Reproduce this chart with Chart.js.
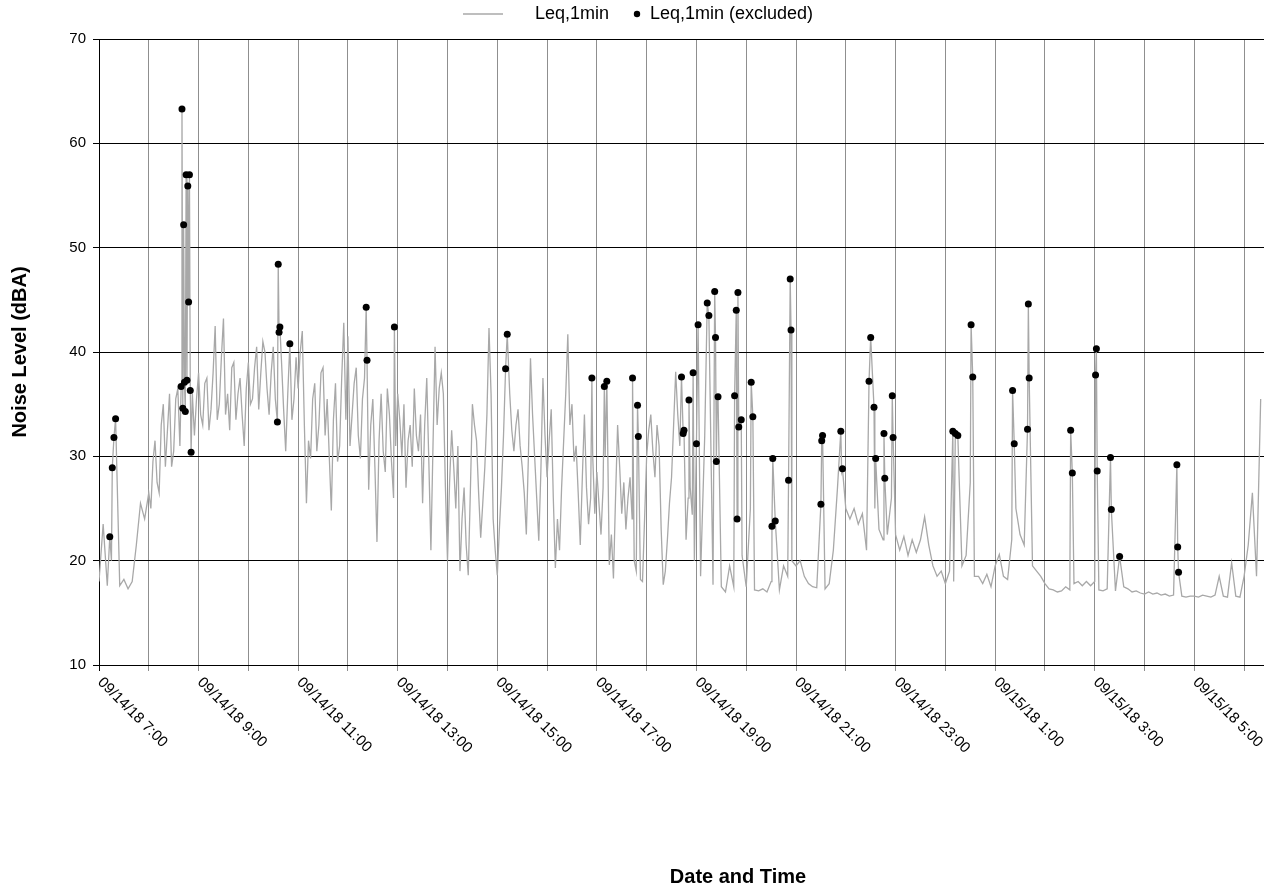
<!DOCTYPE html>
<html>
<head>
<meta charset="utf-8">
<script src="https://cdn.jsdelivr.net/npm/chart.js@4.4.1/dist/chart.umd.min.js"></script>
<style>
  html, body { margin: 0; padding: 0; background: #fff; }
  #wrap { width: 1264px; height: 888px; }
</style>
</head>
<body>
<div id="wrap"><canvas id="noiseChart" width="1264" height="888"></canvas></div>
<script>
// Leq,1min, one value every 5 minutes from 09/14/18 7:00
const stepMin = 5;
const leqBase = [
  18.0, 23.5, 17.6, 20.0, 22.0, 17.6, 18.2, 17.3, 18.0, 21.5, 25.5, 24.0,
  26.5, 29.5, 27.5, 33.0, 29.0, 36.0, 30.5, 36.5, 35.0, 33.5, 35.0, 32.0,
  38.0, 33.0, 37.5, 34.5, 42.5, 35.0, 43.2, 36.0, 38.5, 33.5, 37.5, 31.0,
  39.0, 35.5, 40.5, 38.0, 40.0, 34.0, 40.5, 33.5, 39.0, 30.5, 38.0, 35.5,
  36.5, 42.0, 25.5, 29.8, 37.0, 33.0, 38.5, 35.5, 24.8, 37.0, 31.0, 42.8,
  41.5, 34.0, 38.5, 29.8, 37.5, 26.8, 35.5, 21.8, 36.0, 28.5, 34.0, 26.0,
  36.0, 30.0, 27.0, 33.0, 36.5, 30.5, 25.5, 37.5, 21.0, 40.5, 36.5, 36.0,
  20.0, 32.5, 25.0, 19.0, 27.0, 18.6, 35.0, 31.5, 22.2, 29.0, 42.3, 24.0,
  18.6, 27.0, 40.0, 36.0, 30.5, 34.5, 29.0, 22.5, 39.4, 30.0, 21.9, 37.5,
  28.0, 34.5, 19.3, 21.0, 31.5, 41.7, 35.0, 31.0, 21.5, 34.0, 23.5, 30.0,
  28.5, 22.5, 30.0, 19.6, 18.3, 33.0, 24.5, 23.0, 28.0, 20.0, 18.5, 18.0,
  30.0, 34.0, 28.0, 31.0, 17.7, 22.0, 28.0, 38.1, 31.0, 30.5, 26.0, 24.4,
  28.0, 18.5, 32.0, 30.5, 17.7, 35.7, 17.5, 17.0, 19.5, 17.5, 32.8, 20.5,
  17.5, 25.0, 17.2, 17.1, 17.3, 17.0, 18.0, 20.0, 17.2, 19.5, 18.5, 20.0,
  19.5, 20.0, 18.5, 17.8, 17.5, 17.4, 19.0, 17.3, 17.8, 21.0, 27.0, 28.5,
  25.0, 24.0, 25.0, 23.5, 24.5, 21.0, 24.0, 25.0, 23.0, 22.0, 22.5, 26.0,
  22.5, 21.0, 22.3, 20.5, 22.0, 20.8, 22.0, 24.2, 21.5, 19.5, 18.5, 19.0,
  17.8, 19.0, 18.0, 18.5, 19.5, 20.5, 27.5, 18.5, 18.5, 17.8, 18.7, 17.5,
  19.5, 20.6, 18.5, 18.2, 22.0, 25.0, 22.5, 21.5, 21.0, 19.5, 19.0, 18.5,
  17.8, 17.3, 17.2, 17.0, 17.1, 17.5, 17.2, 17.8, 18.0, 17.6, 18.0, 17.6,
  18.0, 17.2, 17.1, 17.3, 17.5, 17.1, 18.0, 17.5, 17.3, 17.0, 17.1, 16.9,
  16.8, 17.0, 16.8, 16.9, 16.7, 16.8, 16.6, 16.7, 16.7, 16.6, 16.5, 16.6,
  16.6, 16.5, 16.7, 16.6, 16.5, 16.7, 18.5, 16.6, 16.5, 19.8, 16.6, 16.5,
  18.5, 21.5, 26.5, 18.5, 35.5
];

// extra readings in the busy daytime stretch, at 8:02:30, 8:07:30 ... 18:57:30
const midStart = 62.5;
const leqMid = [
  25.0, 31.5, 26.5, 35.0, 32.5, 29.0, 35.5, 31.0, null, null, 36.0, 35.5,
  34.0, 37.0, 32.5, 38.0, 33.5, 39.5, 34.0, 32.5, 39.0, 36.0, 34.0, 36.5,
  35.0, 38.5, 34.5, 41.0, 36.5, 38.0, 35.5, null, 34.5, 36.0, 33.5, 39.5,
  40.0, 33.0, 31.5, 35.5, 30.5, 38.0, 32.0, 30.0, 33.5, 29.5, 37.5, 33.5,
  31.0, 37.0, 32.0, 35.5, null, 33.0, 29.0, 31.5, 30.5, 36.5, 29.5, 31.0,
  33.5, 35.0, 31.5, 29.0, 32.0, 34.0, 33.0, 29.5, 31.0, 33.0, 38.0, 27.0,
  27.5, 29.0, 31.0, 24.0, 21.5, 26.5, 33.0, 26.5, 25.5, 34.0, 36.0, 21.0,
  23.0, 32.0, null, 32.5, 33.0, 31.0, 26.5, 30.0, 34.0, 26.0, 28.5, 32.0,
  31.5, 26.0, 24.0, 27.0, 36.0, 33.0, 29.5, 26.5, 28.0, 27.0, 26.0, 24.5,
  25.5, 27.0, null, 22.5, 26.0, 29.0, 27.5, 26.0, 24.0, 19.0, 18.2, 24.0,
  32.5, 30.5, 33.0, 23.0, 19.0, 25.5, 33.0, 34.0, null, 22.0, 27.0, 20.0
];

// excluded minutes (minutes after 7:00) and their levels
const excMinutes = [
  13, 16, 18, 20,
  99, 100, 101, 102, 103, 104, 105, 106, 107, 108, 109, 110, 111,
  215, 216, 217, 218, 230,
  322, 323, 356,
  490, 492,
  594, 609, 612, 643, 649, 650,
  702, 704, 705, 711, 716, 720, 722, 733, 735, 742, 743, 744, 746,
  766, 768, 769, 770, 771, 774, 786, 788, 811, 812, 815,
  831, 833, 834, 870, 871, 872, 894, 896,
  928, 930, 934, 936, 946, 947, 956, 957,
  1029, 1032, 1035, 1051, 1053,
  1101, 1103, 1119, 1120, 1121, 1171, 1173,
  1201, 1202, 1203, 1219, 1220, 1230,
  1299, 1300, 1301
];
const excLevels = [
  22.3, 28.9, 31.8, 33.6,
  36.7, 63.3, 34.6, 52.2, 37.1, 34.3, 57.0, 37.3, 55.9, 44.8, 57.0, 36.3, 30.4,
  33.3, 48.4, 41.9, 42.4, 40.8,
  44.3, 39.2, 42.4,
  38.4, 41.7,
  37.5, 36.7, 37.2, 37.5, 34.9, 31.9,
  37.6, 32.2, 32.5, 35.4, 38.0, 31.2, 42.6, 44.7, 43.5, 45.8, 41.4, 29.5, 35.7,
  35.8, 44.0, 24.0, 45.7, 32.8, 33.5, 37.1, 33.8, 23.3, 29.8, 23.8,
  27.7, 47.0, 42.1, 25.4, 31.5, 32.0, 32.4, 28.8,
  37.2, 41.4, 34.7, 29.8, 32.2, 27.9, 35.8, 31.8,
  32.4, 32.2, 32.0, 42.6, 37.6,
  36.3, 31.2, 32.6, 44.6, 37.5, 32.5, 28.4,
  37.8, 40.3, 28.6, 29.9, 24.9, 20.4,
  29.2, 21.3, 18.9
];

const tickMinutes = [0, 120, 240, 360, 480, 600, 720, 840, 960, 1080, 1200, 1320];
const tickLabels = [
  "09/14/18 7:00", "09/14/18 9:00", "09/14/18 11:00", "09/14/18 13:00",
  "09/14/18 15:00", "09/14/18 17:00", "09/14/18 19:00", "09/14/18 21:00",
  "09/14/18 23:00", "09/15/18 1:00", "09/15/18 3:00", "09/15/18 5:00"
];

const lineLabel = "Leq,1min";
const excLabel = "Leq,1min (excluded)";

// the full 1-min line also passes through the excluded minutes
let lineMap = new Map();
leqBase.forEach((v, i) => lineMap.set(i * stepMin, v));
leqMid.forEach((v, i) => { if (v !== null) lineMap.set(midStart + i * stepMin, v); });
excMinutes.forEach((m, i) => lineMap.set(m, excLevels[i]));
let lineData = [...lineMap.entries()].sort((a, b) => a[0] - b[0]).map(e => ({x: e[0], y: e[1]}));
let excData = excMinutes.map((m, i) => ({x: m, y: excLevels[i]}));

const FONT = '"Liberation Sans", Arial, sans-serif';

// x labels go down to the right, plus the x title and the legend
const extraText = {
  id: 'extraText',
  afterDraw(chart) {
    const ctx = chart.ctx;
    const xs = chart.scales.x;
    const area = chart.chartArea;
    ctx.save();
    ctx.fillStyle = '#000';
    ctx.font = '15px ' + FONT;
    ctx.textAlign = 'left';
    ctx.textBaseline = 'middle';
    tickMinutes.forEach((m, i) => {
      const px = xs.getPixelForValue(m);
      ctx.save();
      ctx.translate(px + 1, area.bottom + 15);
      ctx.rotate(Math.PI / 4);
      ctx.fillText(tickLabels[i], 0, 0);
      ctx.restore();
    });

    ctx.font = 'bold 20px ' + FONT;
    ctx.textAlign = 'center';
    ctx.fillText('Date and Time', 738, 877);

    // legend
    ctx.font = '18px ' + FONT;
    ctx.textAlign = 'left';
    ctx.strokeStyle = '#a8a8a8';
    ctx.lineWidth = 1.3;
    ctx.beginPath();
    ctx.moveTo(463, 14);
    ctx.lineTo(503, 14);
    ctx.stroke();
    ctx.fillText(lineLabel, 535, 14);
    ctx.beginPath();
    ctx.arc(637, 14, 3.2, 0, Math.PI * 2);
    ctx.fill();
    ctx.fillText(excLabel, 650, 14);
    ctx.restore();
  }
};

new Chart(document.getElementById('noiseChart'), {
  data: {
    datasets: [{
      type: 'scatter',
      label: excLabel,
      data: excData,
      backgroundColor: '#000',
      borderWidth: 0,
      pointRadius: 3.5,
      order: 1
    }, {
      type: 'line',
      label: lineLabel,
      data: lineData,
      borderColor: '#a8a8a8',
      borderWidth: 1.3,
      pointRadius: 0,
      tension: 0,
      order: 2
    }]
  },
  options: {
    responsive: false,
    animation: false,
    layout: { autoPadding: false, padding: { left: 4, top: 39, right: 0, bottom: 0 } },
    plugins: {
      legend: { display: false },
      tooltip: { enabled: false }
    },
    scales: {
      x: {
        type: 'linear',
        min: 0,
        max: 1404,
        ticks: { display: false, stepSize: 60, includeBounds: false },
        grid: {
          color: ctx => ctx.tick && ctx.tick.value === 0 ? '#000' : '#8f8f8f',
          lineWidth: 1,
          tickLength: 6
        },
        border: { color: '#000' },
        afterFit: s => { s.height = 223; }
      },
      y: {
        min: 10,
        max: 70,
        ticks: { stepSize: 10, color: '#000', padding: 7, font: { size: 15, family: FONT } },
        grid: { color: '#000', lineWidth: 1, tickLength: 6 },
        border: { color: '#000' },
        title: {
          display: true,
          text: 'Noise Level (dBA)',
          color: '#000',
          font: { size: 20, weight: 'bold', family: FONT }
        },
        afterFit: s => { s.width = 95; }
      }
    }
  },
  plugins: [extraText]
});
</script>
</body>
</html>
